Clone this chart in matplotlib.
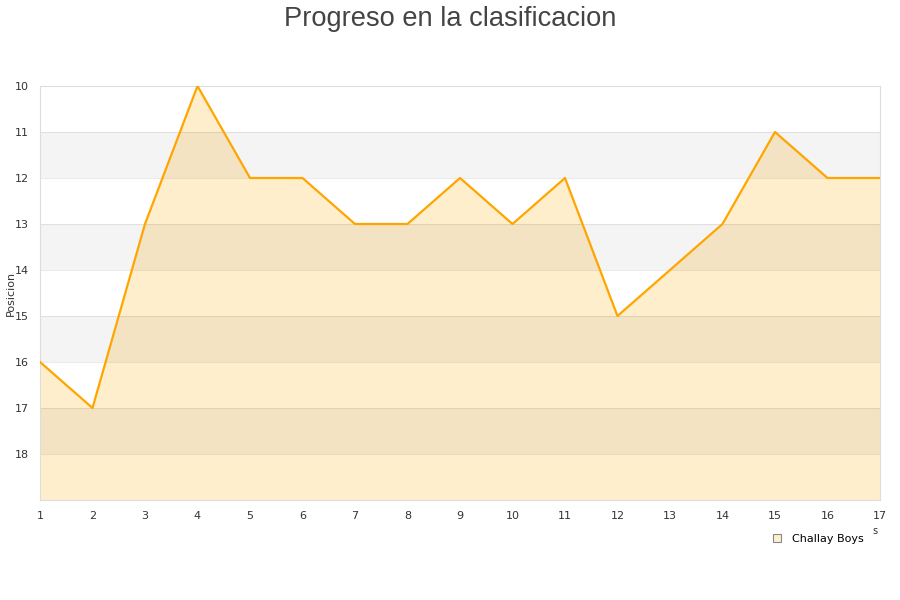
import matplotlib
matplotlib.use("Agg")
import matplotlib.pyplot as plt
from matplotlib.lines import Line2D

# data
jornadas = list(range(1, 18))
posicion = [16, 17, 13, 10, 12, 12, 13, 13, 12, 13, 12, 15, 14, 13, 11, 12, 12]
y_ticks = list(range(10, 19))
equipo = 'Challay Boys'

fig = plt.figure(figsize=(9, 6), dpi=100)
ax = fig.add_axes([40 / 900, 1 - 500 / 600, 840 / 900, 414 / 600])

ax.fill_between(jornadas, posicion, 19, color='#ffeecc', lw=0, zorder=1)

# alternating bands drawn over the fill, semi transparent
for i, y0 in enumerate(range(10, 19)):
    if i % 2 == 1:
        ax.axhspan(y0, y0 + 1, color='black', alpha=0.045, zorder=2, lw=0)
for y0 in range(11, 19):
    ax.axhline(y0, color='black', alpha=0.08, lw=0.8, zorder=2)

ax.plot(jornadas, posicion, color='#ffa500', lw=1.6, zorder=3)

ax.set_xlim(1, 17)
ax.set_ylim(19, 10)
ax.set_xticks(jornadas)
ax.set_yticks(y_ticks)
ax.tick_params(length=0, labelsize=8, colors='#333333', pad=8)
for s in ax.spines.values():
    s.set_color('#dddddd')

fig.text(11 / 900, 1 - 293 / 600, 'Posicion', fontsize=8, color='#333333',
         rotation=90, ha='center', va='center')

fig.suptitle('Progreso en la clasificacion', fontsize=19.6, color='#444444', y=0.99,
             family='Liberation Sans')

handle = Line2D([], [], marker='s', ls='none', markersize=6,
                markerfacecolor='#ffeecc', markeredgecolor='#888888', markeredgewidth=0.8)
fig.legend([handle], [equipo], loc='center', bbox_to_anchor=(815 / 900, 1 - 539 / 600),
           frameon=False, fontsize=8, handletextpad=0.3)
fig.text(875 / 900, 1 - 531 / 600, 's', fontsize=7, color='#333333', ha='center', va='center')

fig.savefig('out.png', dpi=100)
